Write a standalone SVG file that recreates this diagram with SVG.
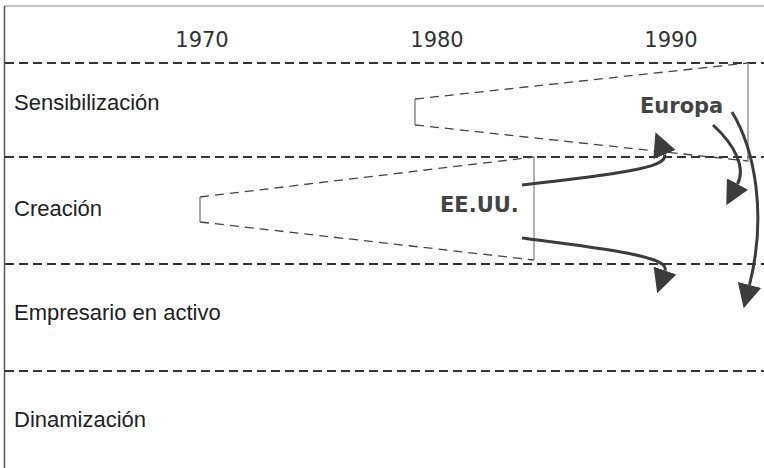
<svg xmlns="http://www.w3.org/2000/svg" width="764" height="468" viewBox="0 0 764 468">
  <defs>
    <style>
      .frame { stroke: #555; stroke-width: 1.5; fill: none; }
      .top { stroke: #b0b0b0; stroke-width: 1.5; fill: none; }
      .band { stroke: #333; stroke-width: 2; stroke-dasharray: 9 5; fill: none; }
      .wedge { stroke: #444; stroke-width: 1.3; stroke-dasharray: 9 6; fill: none; }
      .bracket { stroke: #777; stroke-width: 1.3; fill: none; }
      .span { stroke: #999; stroke-width: 1.5; fill: none; }
      .arrow { stroke: #3c3c3c; stroke-width: 3; fill: none; marker-end: url(#head); }
      .label { font-family: "Liberation Sans", Arial, sans-serif; font-size: 22px; fill: #222; }
      .year { font-family: "DejaVu Sans", Verdana, sans-serif; font-size: 21px; fill: #333; text-anchor: middle; }
      .region { font-family: "DejaVu Sans", Verdana, sans-serif; font-size: 21px; font-weight: bold; fill: #444; }
    </style>
    <marker id="head" markerUnits="userSpaceOnUse" viewBox="0 -13 25 26" refX="0" refY="0" markerWidth="25" markerHeight="26" orient="auto">
      <path d="M0,-12 L24,0 L0,12 z" fill="#3c3c3c"/>
    </marker>
  </defs>

  <g id="frame">
    <line class="top" x1="4" y1="6" x2="764" y2="6"/>
    <line class="frame" x1="4.5" y1="6" x2="4.5" y2="468"/>
  </g>

  <g id="bands">
    <line class="band" x1="5" y1="63" x2="764" y2="63"/>
    <line class="band" x1="5" y1="157" x2="764" y2="157"/>
    <line class="band" x1="5" y1="264" x2="764" y2="264"/>
    <line class="band" x1="5" y1="371" x2="764" y2="371"/>
  </g>

  <g id="years">
    <text class="year" x="202" y="47">1970</text>
    <text class="year" x="437" y="47">1980</text>
    <text class="year" x="671" y="47">1990</text>
  </g>

  <g id="row-sensibilizacion"><text class="label" x="14" y="110">Sensibilización</text></g>
  <g id="row-creacion"><text class="label" x="14" y="216">Creación</text></g>
  <g id="row-empresario"><text class="label" x="14" y="320">Empresario en activo</text></g>
  <g id="row-dinamizacion"><text class="label" x="14" y="427">Dinamización</text></g>

  <g id="wedge-europa">
    <line class="wedge" x1="415" y1="99" x2="748" y2="63"/>
    <line class="wedge" x1="415" y1="125" x2="748" y2="161"/>
    <line class="bracket" x1="415" y1="99" x2="415" y2="125"/>
    <line class="span" x1="748" y1="63" x2="748" y2="162"/>
    <text class="region" x="640" y="113">Europa</text>
  </g>

  <g id="wedge-eeuu">
    <line class="wedge" x1="200" y1="197" x2="534" y2="157"/>
    <line class="wedge" x1="200" y1="222" x2="534" y2="260"/>
    <line class="bracket" x1="200" y1="197" x2="200" y2="222"/>
    <line class="span" x1="534" y1="157" x2="534" y2="260"/>
    <text class="region" x="440" y="212">EE.UU.</text>
  </g>

  <g id="connectors">
    <path class="arrow" d="M522,185 C610,175 670,168 664.5,154.5"/>
    <path class="arrow" d="M522,238 C600,248 670,256 665,270.5"/>
    <path class="arrow" d="M713,125 C735,145 746,168 737.5,184"/>
    <path class="arrow" d="M732,112 C755,150 767,215 749.5,285"/>
  </g>
</svg>
